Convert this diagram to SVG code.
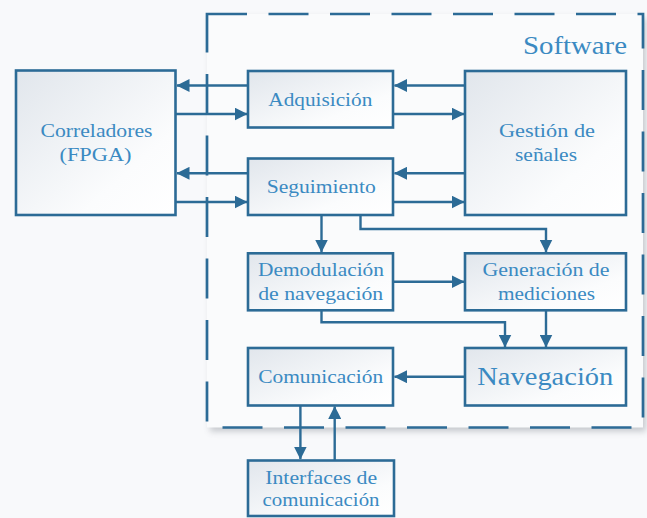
<svg xmlns="http://www.w3.org/2000/svg" width="647" height="518" viewBox="0 0 647 518">
<defs>
<linearGradient id="boxfill" x1="0" y1="0" x2="1" y2="1">
<stop offset="0" stop-color="#e1e6ec"/>
<stop offset="0.7" stop-color="#fbfcfd"/>
<stop offset="1" stop-color="#ffffff"/>
</linearGradient>
<filter id="shadow" x="-10%" y="-10%" width="120%" height="120%">
<feGaussianBlur stdDeviation="3"/>
</filter>
<marker id="ah" markerUnits="userSpaceOnUse" markerWidth="13" markerHeight="13" viewBox="0 0 13 13" refX="12.5" refY="6.5" orient="auto">
<path d="M0,0 L13,6.5 L0,13 Z" fill="#2c6b96"/>
</marker>
</defs>
<style>
.box{fill:url(#boxfill);stroke:#2c6b96;stroke-width:2.6}
.lbl{fill:#3b8ac2;text-anchor:middle;font-family:'Liberation Serif','DejaVu Serif',serif;font-size:19px}
.big{font-size:25px}
.conn{fill:none;stroke:#2c6b96;stroke-width:2.4;marker-end:url(#ah)}
.dash{fill:none;stroke:#2c6b96;stroke-width:2.7;stroke-dasharray:40 21.5}
</style>
<rect x="0" y="0" width="647" height="518" fill="#f8f9fb"/>
<g id="software">
<rect x="210" y="18" width="436" height="413.5" fill="#8a8f96" opacity="0.45" filter="url(#shadow)"/>
<rect x="207" y="14" width="436" height="413.5" fill="#fafbfc"/>
<path class="dash" d="M207,14 H643 V427.5 H207 Z"/>
<text class="lbl big" x="575" y="53.5" textLength="104" lengthAdjust="spacingAndGlyphs">Software</text>
</g>
<g id="connectors">
<line class="conn" x1="248" y1="85.5" x2="177" y2="85.5"/>
<line class="conn" x1="176" y1="114" x2="247" y2="114"/>
<line class="conn" x1="465" y1="85.5" x2="394.5" y2="85.5"/>
<line class="conn" x1="393" y1="114" x2="464" y2="114"/>
<line class="conn" x1="248" y1="173.3" x2="177" y2="173.3"/>
<line class="conn" x1="176" y1="202" x2="247" y2="202"/>
<line class="conn" x1="465" y1="173.3" x2="394.5" y2="173.3"/>
<line class="conn" x1="393" y1="202" x2="464" y2="202"/>
<line class="conn" x1="321.5" y1="215" x2="321.5" y2="252"/>
<polyline class="conn" points="360.5,215 360.5,229 546,229 546,252"/>
<line class="conn" x1="393" y1="281.7" x2="464" y2="281.7"/>
<polyline class="conn" points="321.5,310 321.5,322.3 505,322.3 505,347"/>
<line class="conn" x1="546" y1="310" x2="546" y2="347"/>
<line class="conn" x1="465" y1="376.7" x2="394.5" y2="376.7"/>
<line class="conn" x1="300.4" y1="405" x2="300.4" y2="459"/>
<line class="conn" x1="334.7" y1="460" x2="334.7" y2="406.5"/>
</g>
<g id="correladores">
<rect class="box" x="16" y="70.5" width="159.5" height="144.5"/>
<text class="lbl" x="96.5" y="136.5" textLength="112" lengthAdjust="spacingAndGlyphs">Correladores</text>
<text class="lbl" x="95.5" y="160.5" textLength="72" lengthAdjust="spacingAndGlyphs">(FPGA)</text>
</g>
<g id="adquisicion">
<rect class="box" x="248" y="71" width="145" height="56.5"/>
<text class="lbl" x="320.3" y="105.7" textLength="104" lengthAdjust="spacingAndGlyphs">Adquisición</text>
</g>
<g id="gestion">
<rect class="box" x="465" y="71" width="161" height="144"/>
<text class="lbl" x="547" y="136.5" textLength="96" lengthAdjust="spacingAndGlyphs">Gestión de</text>
<text class="lbl" x="546" y="160.5" textLength="62" lengthAdjust="spacingAndGlyphs">señales</text>
</g>
<g id="seguimiento">
<rect class="box" x="248" y="158.5" width="145" height="56.5"/>
<text class="lbl" x="321.2" y="192.7" textLength="109" lengthAdjust="spacingAndGlyphs">Seguimiento</text>
</g>
<g id="demodulacion">
<rect class="box" x="248" y="253.3" width="145" height="57"/>
<text class="lbl" x="321" y="275.5" textLength="126" lengthAdjust="spacingAndGlyphs">Demodulación</text>
<text class="lbl" x="320.7" y="300" textLength="125" lengthAdjust="spacingAndGlyphs">de navegación</text>
</g>
<g id="generacion">
<rect class="box" x="465" y="253.3" width="161" height="57"/>
<text class="lbl" x="546" y="275.5" textLength="127" lengthAdjust="spacingAndGlyphs">Generación de</text>
<text class="lbl" x="546.5" y="300" textLength="97" lengthAdjust="spacingAndGlyphs">mediciones</text>
</g>
<g id="comunicacion">
<rect class="box" x="248" y="348" width="145" height="57.5"/>
<text class="lbl" x="320.7" y="383" textLength="125" lengthAdjust="spacingAndGlyphs">Comunicación</text>
</g>
<g id="navegacion">
<rect class="box" x="465" y="348" width="161" height="57.5"/>
<text class="lbl big" x="545.3" y="385" textLength="136" lengthAdjust="spacingAndGlyphs">Navegación</text>
</g>
<g id="interfaces">
<rect class="box" x="248" y="460.5" width="146" height="55.5"/>
<text class="lbl" x="321.2" y="483.5" textLength="112" lengthAdjust="spacingAndGlyphs">Interfaces de</text>
<text class="lbl" x="321" y="506" textLength="117" lengthAdjust="spacingAndGlyphs">comunicación</text>
</g>
</svg>
